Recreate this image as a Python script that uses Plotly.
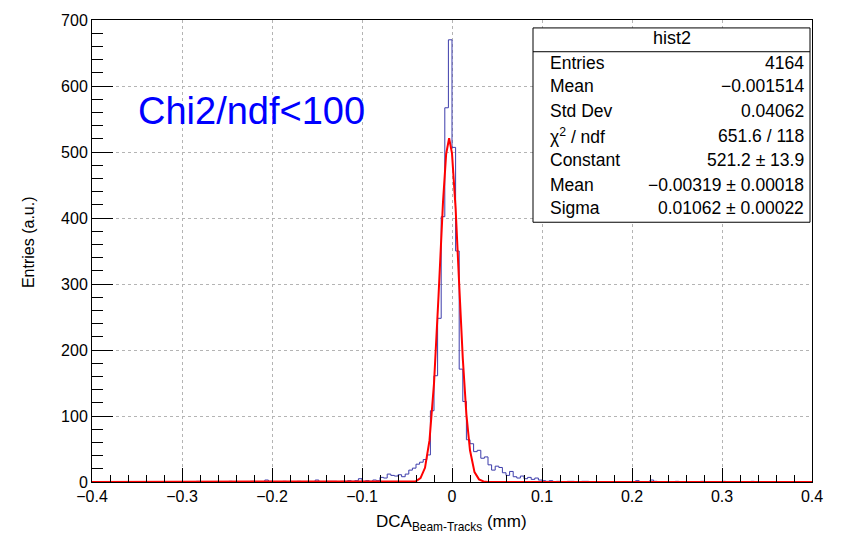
import numpy as np
import plotly.graph_objects as go

# ---------------- data ----------------
x_min, x_max, n_bins = -0.4, 0.4, 200

hist_counts = [
    0, 0, 0, 0, 0, 0, 0, 0, 0, 0, 0, 0, 0, 0, 0, 0, 0, 0, 0, 0,
    0, 0, 0, 0, 0, 0, 0, 0, 0, 1, 0, 0, 0, 0, 0, 0, 0, 0, 1, 0,
    0, 0, 0, 0, 1, 0, 0, 0, 3, 1, 0, 0, 0, 1, 0, 0, 0, 1, 0, 0,
    0, 0, 3, 0, 0, 1, 1, 1, 0, 1, 1, 2, 1, 2, 5, 1, 2, 1, 3, 2,
    7, 6, 12, 10, 9, 11, 8, 12, 18, 21, 27, 30, 34, 41, 108, 161, 248, 402, 567, 670,
    507, 350, 171, 122, 64, 58, 46, 48, 36, 38, 26, 18, 24, 22, 14, 10, 16, 8, 6, 9,
    5, 7, 4, 6, 3, 2, 1, 2, 0, 1, 0, 0, 1, 1, 0, 0, 1, 1, 0, 0,
    0, 0, 0, 0, 0, 0, 0, 0, 0, 0, 0, 2, 0, 0, 0, 3, 1, 0, 0, 0,
    0, 0, 1, 0, 0, 0, 0, 0, 0, 1, 0, 0, 0, 0, 0, 1, 0, 0, 0, 0,
    0, 0, 0, 1, 0, 0, 0, 0, 0, 0, 0, 0, 0, 0, 0, 0, 0, 0, 0, 0,
]

# red fit curve vertices
fit_x = [-0.4, -0.045, -0.04, -0.035, -0.03, -0.025, -0.02, -0.015, -0.01, -0.0065,
         -0.0032, 0.0, 0.004, 0.008, 0.012, 0.016, 0.02, 0.025, 0.03, 0.035, 0.04, 0.4]
fit_y = [0, 0.2, 1.3, 5.9, 21.5, 63, 149, 281, 424, 497,
         521, 498, 415, 299, 187, 102, 48, 15, 4, 0.8, 0.1, 0]

x_ticks = [-0.4, -0.3, -0.2, -0.1, 0, 0.1, 0.2, 0.3, 0.4]
y_ticks = [0, 100, 200, 300, 400, 500, 600, 700]

stats_title = "hist2"
stats_labels = ["Entries", "Mean", "Std Dev", "χ<sup>2</sup> / ndf", "Constant", "Mean", "Sigma"]
stats_values = ["4164", "−0.001514", "0.04062", "651.6 / 118", "521.2 ± 13.9",
                "−0.00319 ± 0.00018", "0.01062 ± 0.00022"]

# ---------------- figure ----------------
FONT = "Liberation Sans, Arial, Helvetica, sans-serif"
W, H = 846, 537
L, R, T, B = 92, 34, 16, 55
PW, PH = W - L - R, H - T - B


def px2paper_x(px):
    return (px - L) / PW


def px2paper_y(py):
    return (H - B - py) / PH


edges = np.linspace(x_min, x_max, n_bins + 1)
step_x = list(edges)
step_y = list(hist_counts) + [hist_counts[-1]]

fig = go.Figure()
fig.add_trace(go.Scatter(x=step_x, y=step_y, mode="lines", line_shape="hv",
                         line=dict(color="#3d3dab", width=1), hoverinfo="skip"))
fig.add_trace(go.Scatter(x=fit_x, y=fit_y, mode="lines",
                         line=dict(color="#ff0000", width=2), hoverinfo="skip"))

axis_common = dict(
    showline=True, linecolor="black", linewidth=1, mirror=True,
    ticks="inside", tickcolor="black", tickwidth=1,
    showgrid=True, gridcolor="#b4b4b4", griddash="dot", gridwidth=1,
    zeroline=False, tickfont=dict(family=FONT, size=16, color="black"),
)

fig.update_xaxes(range=[x_min, x_max], tickvals=x_ticks, ticklen=14,
                 minor=dict(dtick=0.02, tick0=-0.4, ticklen=7, ticks="inside",
                            tickcolor="black", showgrid=False),
                 **axis_common)
fig.update_yaxes(range=[0, 700], tickvals=y_ticks, ticklen=21,
                 minor=dict(dtick=20, tick0=0, ticklen=11, ticks="inside",
                            tickcolor="black", showgrid=False),
                 **axis_common)

shapes = []
annotations = []

# stats box
bx0, bx1, by0, by1 = 533, 810, 24, 220
shapes.append(dict(type="rect", xref="paper", yref="paper",
                   x0=px2paper_x(bx0), x1=px2paper_x(bx1),
                   y0=px2paper_y(by1), y1=px2paper_y(by0),
                   fillcolor="white", line=dict(color="black", width=1), layer="above"))
shapes.append(dict(type="line", xref="paper", yref="paper",
                   x0=px2paper_x(bx0), x1=px2paper_x(bx1),
                   y0=px2paper_y(48), y1=px2paper_y(48),
                   line=dict(color="black", width=1), layer="above"))
annotations.append(dict(text=stats_title, xref="paper", yref="paper",
                        x=px2paper_x((bx0 + bx1) / 2), y=px2paper_y(34),
                        xanchor="center", yanchor="middle", showarrow=False,
                        font=dict(family=FONT, size=18, color="black")))
row_y = [59, 83, 108, 133, 157, 182, 206]
for lab, val, ry in zip(stats_labels, stats_values, row_y):
    annotations.append(dict(text=lab, xref="paper", yref="paper",
                            x=px2paper_x(548), y=px2paper_y(ry),
                            xanchor="left", yanchor="middle", showarrow=False,
                            font=dict(family=FONT, size=17.5, color="black")))
    annotations.append(dict(text=val, xref="paper", yref="paper",
                            x=px2paper_x(806), y=px2paper_y(ry),
                            xanchor="right", yanchor="middle", showarrow=False,
                            font=dict(family=FONT, size=17.5, color="black")))

# blue label
annotations.append(dict(text="Chi2/ndf&lt;100", xref="paper", yref="paper",
                        x=px2paper_x(136), y=px2paper_y(108),
                        xanchor="left", yanchor="middle", showarrow=False,
                        font=dict(family=FONT, size=38, color="#0000ff")))

# axis titles
annotations.append(dict(text="DCA<sub>Beam-Tracks</sub> (mm)", xref="paper", yref="paper",
                        x=px2paper_x(451), y=px2paper_y(523),
                        xanchor="center", yanchor="middle", showarrow=False,
                        font=dict(family=FONT, size=17, color="black")))
annotations.append(dict(text="Entries (a.u.)", xref="paper", yref="paper",
                        x=px2paper_x(28), y=px2paper_y(240), textangle=-90,
                        xanchor="center", yanchor="middle", showarrow=False,
                        font=dict(family=FONT, size=16, color="black")))

fig.update_layout(
    width=W, height=H,
    margin=dict(l=L, r=R, t=T, b=B),
    paper_bgcolor="white", plot_bgcolor="white",
    showlegend=False,
    font=dict(family=FONT, size=16, color="black"),
    shapes=shapes, annotations=annotations,
)

fig.write_html("out.html")
